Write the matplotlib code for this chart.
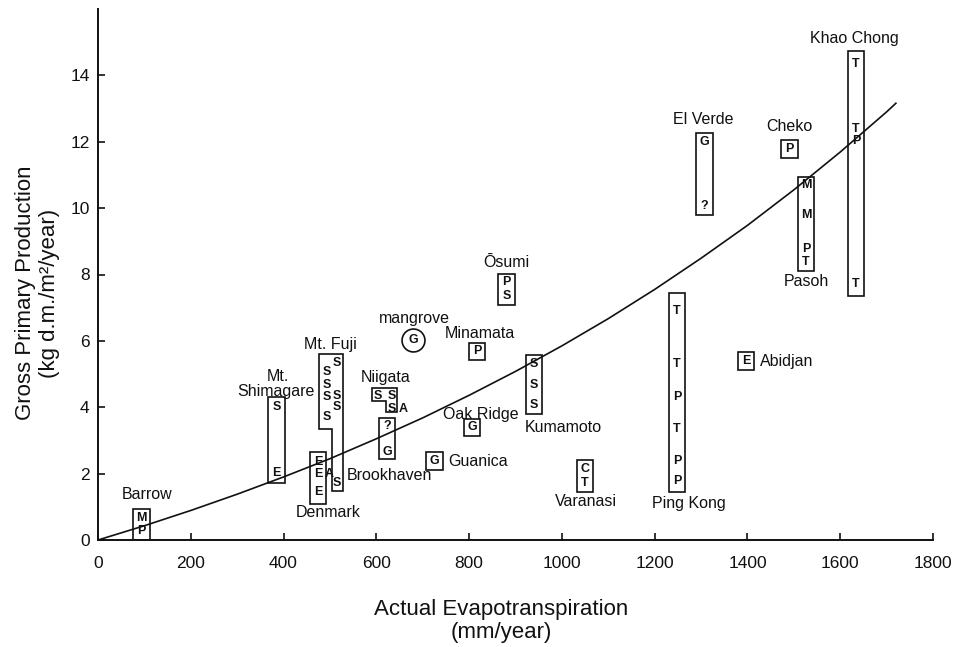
import matplotlib
matplotlib.use("Agg")
import matplotlib.pyplot as plt
from matplotlib.patches import Polygon, Rectangle

plt.rcParams['font.family'] = ['Liberation Sans', 'DejaVu Sans']

# fitted line (ET mm/year, GPP kg/m2/year)
curve_et = [0, 100, 200, 300, 400, 500, 600, 700, 800, 900, 1000, 1100,
            1200, 1300, 1400, 1500, 1600, 1700, 1720]
curve_gpp = [0, 0.43, 0.89, 1.38, 1.90, 2.45, 3.05, 3.68, 4.36, 5.08, 5.85,
             6.67, 7.55, 8.49, 9.48, 10.55, 11.69, 12.90, 13.16]

# one entry per letter: site, forest-type code, ET, GPP
obs_site = ["Barrow", "Barrow",
            "Mt. Shimagare", "Mt. Shimagare",
            "Mt. Fuji", "Mt. Fuji", "Mt. Fuji", "Mt. Fuji",
            "Mt. Fuji", "Mt. Fuji", "Mt. Fuji", "Mt. Fuji",
            "Denmark", "Denmark", "Denmark", "Denmark",
            "Niigata", "Niigata", "Niigata", "Niigata",
            "Brookhaven", "Brookhaven",
            "mangrove", "Minamata", "Oak Ridge", "Guanica",
            "Kumamoto", "Kumamoto", "Kumamoto",
            "Ōsumi", "Ōsumi",
            "Varanasi", "Varanasi",
            "El Verde", "El Verde",
            "Cheko",
            "Pasoh", "Pasoh", "Pasoh", "Pasoh",
            "Khao Chong", "Khao Chong", "Khao Chong", "Khao Chong",
            "Ping Kong", "Ping Kong", "Ping Kong", "Ping Kong", "Ping Kong", "Ping Kong",
            "Abidjan"]
obs_code = ["M", "P",
            "S", "E",
            "S", "S", "S", "S", "S", "S", "S", "S",
            "E", "E", "E", "A",
            "S", "S", "S", "A",
            "?", "G",
            "G", "P", "G", "G",
            "S", "S", "S",
            "P", "S",
            "C", "T",
            "G", "?",
            "P",
            "M", "M", "P", "T",
            "T", "T", "P", "T",
            "T", "T", "P", "T", "P", "P",
            "E"]
obs_et = [94, 94,
          385, 385,
          494, 494, 494, 494, 515, 515, 515, 515,
          474, 474, 474, 498,
          603, 634, 634, 657,
          623, 623,
          679, 817, 806, 726,
          940, 940, 940,
          881, 881,
          1050, 1050,
          1308, 1308,
          1491,
          1526, 1526, 1526, 1526,
          1634, 1634, 1634, 1634,
          1248, 1248, 1248, 1248, 1248, 1248,
          1397]
obs_gpp = [0.66, 0.27,
           4.00, 2.02,
           5.06, 4.67, 4.31, 3.70, 5.33, 4.34, 4.00, 1.72,
           2.35, 1.99, 1.45, 1.99,
           4.34, 4.34, 3.95, 3.95,
           3.43, 2.65,
           6.02, 5.69, 3.40, 2.38,
           5.30, 4.67, 4.07,
           7.77, 7.35,
           2.14, 1.72,
           11.99, 10.06,
           11.78,
           10.69, 9.79, 8.77, 8.37,
           14.34, 12.38, 12.02, 7.71,
           6.90, 5.30, 4.31, 3.34, 2.38, 1.78,
           5.39]

# layout: label anchor (x, y, ha) for each site
label_pos = {
    "Barrow": (106, 1.38, "center"),
    "Mt. Fuji": (500, 5.89, "center"),
    "Denmark": (496, 0.83, "center"),
    "Niigata": (619, 4.89, "center"),
    "Brookhaven": (629, 1.94, "center"),
    "mangrove": (683, 6.67, "center"),
    "Minamata": (823, 6.22, "center"),
    "Oak Ridge": (825, 3.78, "center"),
    "Guanica": (754, 2.36, "left"),
    "Kumamoto": (1002, 3.39, "center"),
    "Ōsumi": (881, 8.36, "center"),
    "Varanasi": (1052, 1.16, "center"),
    "El Verde": (1304, 12.67, "center"),
    "Cheko": (1491, 12.45, "center"),
    "Pasoh": (1526, 7.79, "center"),
    "Khao Chong": (1631, 15.1, "center"),
    "Ping Kong": (1274, 1.10, "center"),
    "Abidjan": (1427, 5.38, "left"),
}
# irregular outlines
shapes = {
    "Mt. Fuji": [(476, 5.60), (528, 5.60), (528, 1.48), (504, 1.48), (504, 3.34), (476, 3.34)],
    "Niigata": [(591, 4.58), (644, 4.58), (644, 3.86), (621, 3.86), (621, 4.19), (591, 4.19)],
}
pad_override = {"Ping Kong": (0.33, 0.54), "Khao Chong": (0.36, 0.39),
                "Mt. Shimagare": (0.3, 0.3), "Brookhaven": (0.22, 0.24),
                "Denmark": (0.37, 0.3)}
half_w = 18
ink = "#111111"

fig = plt.figure(figsize=(9.6, 6.47), dpi=100)
ax = fig.add_axes([98 / 960, 1 - 540 / 647, 835 / 960, 531 / 647])

ax.plot(curve_et, curve_gpp, color=ink, lw=1.2, zorder=2)

site_names = []
for s in obs_site:
    if s not in site_names:
        site_names.append(s)

for site in site_names:
    idx = [i for i, s in enumerate(obs_site) if s == site]
    for i in idx:
        ax.text(obs_et[i], obs_gpp[i], obs_code[i], ha="center", va="center",
                fontsize=9, fontweight="bold", color=ink, zorder=4)
    boxed = [i for i in idx if obs_code[i] != "A"]
    if site == "mangrove":
        ax.plot(obs_et[boxed[0]], obs_gpp[boxed[0]], "o", ms=16.5, mfc="none",
                mec=ink, mew=1.2, zorder=3)
    elif site in shapes:
        ax.add_patch(Polygon(shapes[site], closed=True, fill=False, ec=ink, lw=1.2, zorder=3))
    else:
        xs = [obs_et[i] for i in boxed]
        ys = [obs_gpp[i] for i in boxed]
        lo, hi = pad_override.get(site, (0.26, 0.26))
        x0 = min(xs) - half_w
        y0 = min(ys) - lo
        ax.add_patch(Rectangle((x0, y0), max(xs) - min(xs) + 2 * half_w,
                               max(ys) - min(ys) + lo + hi, fill=False, ec=ink,
                               lw=1.2, zorder=3))
    if site in label_pos:
        lx, ly, ha = label_pos[site]
        ax.text(lx, ly, site, ha=ha, va="center", fontsize=11.5, color=ink, zorder=4)

ax.text(388, 4.92, "Mt.", ha="center", va="center", fontsize=11.5, color=ink)
ax.text(384, 4.47, "Shimagare", ha="center", va="center", fontsize=11.5, color=ink)

ax.set_xlim(0, 1800)
ax.set_ylim(0, 16)
ax.set_xticks(range(0, 1801, 200))
ax.set_yticks(range(0, 15, 2))
for side in ("top", "right"):
    ax.spines[side].set_visible(False)
for side in ("left", "bottom"):
    ax.spines[side].set_linewidth(1.4)
    ax.spines[side].set_color(ink)
ax.tick_params(direction="in", length=5, width=1.2, labelsize=12.5, colors=ink)
ax.tick_params(axis="x", pad=11.5)
ax.tick_params(axis="y", pad=6)

ax.set_xlabel("Actual Evapotranspiration\n(mm/year)", fontsize=16, color=ink,
              linespacing=1.1)
ax.xaxis.label.set_va("center")
ax.xaxis.set_label_coords(0.483, -0.153)
ax.set_ylabel("Gross Primary Production\n(kg d.m./m²/year)", fontsize=16, color=ink,
              linespacing=1.2)
ax.yaxis.label.set_va("center")
ax.yaxis.set_label_coords(-0.072, 0.465)

fig.savefig("out.png", dpi=100)
